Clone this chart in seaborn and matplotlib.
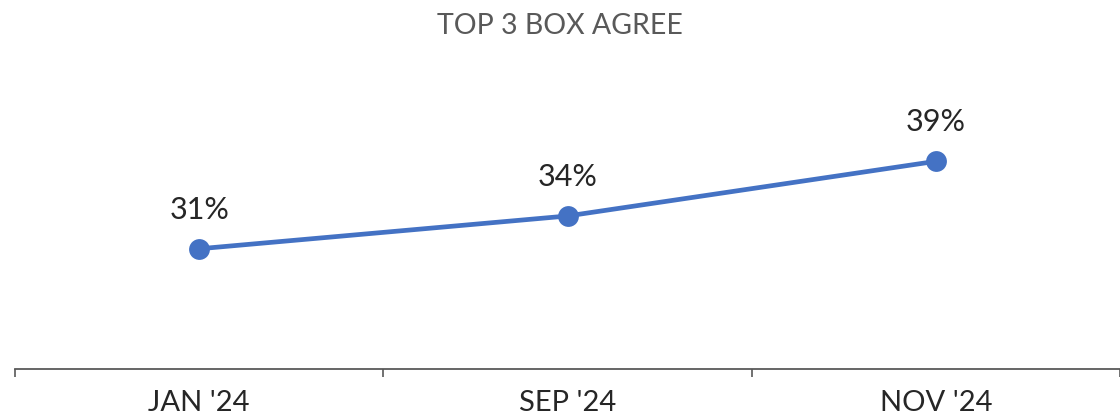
import matplotlib
matplotlib.use("Agg")
import matplotlib.pyplot as plt
import seaborn as sns
import pandas as pd
from matplotlib.ticker import FixedLocator

categories = ["JAN '24", "SEP '24", "NOV '24"]
values = [31, 34, 39]
labels = ["31%", "34%", "39%"]
title = "TOP 3 BOX AGREE"

sns.set_theme(style="white")
plt.rcParams['font.family'] = ['Lato', 'DejaVu Sans']

df = pd.DataFrame({"cat": categories, "val": values})

fig = plt.figure(figsize=(11.2, 4.17), dpi=100)
ax = fig.add_axes([15/1120, (417-369)/417, 1105/1120, (369-95.75)/417])

sns.lineplot(data=df, x="cat", y="val", ax=ax, color="#4472C4", linewidth=3.4,
             marker="o", markersize=15, markeredgewidth=0, sort=False)

ax.set_xlim(-0.5, 2.5)
ax.set_ylim(20, 45)

for i, (v, t) in enumerate(zip(values, labels)):
    ax.annotate(t, (i, v), xytext=(0, 18), textcoords="offset points",
                ha="center", va="bottom", fontsize=22, color="#262626")

for s in ["top", "right", "left"]:
    ax.spines[s].set_visible(False)
ax.spines["bottom"].set_color("#595959")
ax.spines["bottom"].set_linewidth(1.3)

ax.set_yticks([])
ax.set_xticks(range(len(categories)))
ax.set_xticklabels(categories, fontsize=21, color="#262626")
ax.tick_params(axis="x", which="major", length=0, pad=15)
ax.xaxis.set_minor_locator(FixedLocator([-0.5, 0.5, 1.5, 2.5]))
ax.tick_params(axis="x", which="minor", length=6, width=1.2, color="#595959", direction="out", bottom=True)
ax.set_xlabel("")
ax.set_ylabel("")

fig.text(0.5, 1 - 26/417, title, ha="center", va="center", fontsize=20.5, color="#595959")

fig.savefig("out.png", dpi=100)
